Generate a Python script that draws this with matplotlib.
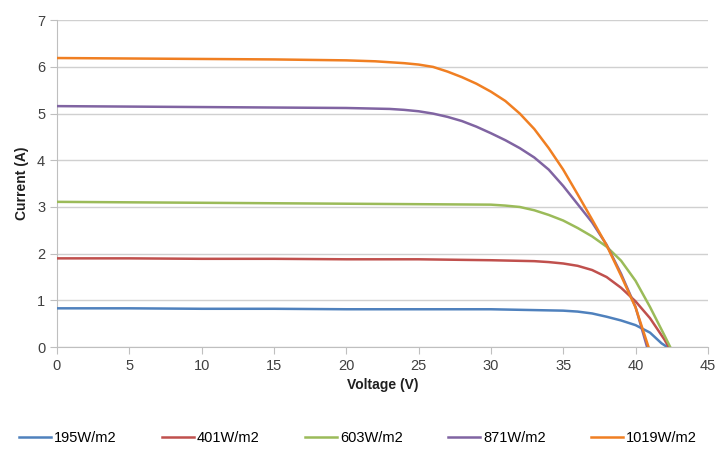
import matplotlib
matplotlib.use("Agg")
import matplotlib.pyplot as plt

plt.rcParams.update({
    "font.family": ["Liberation Sans", "DejaVu Sans"],
    "font.size": 10,
})

# irradiance series: voltage (V) / current (A)
LABELS = ["195W/m2", "401W/m2", "603W/m2", "871W/m2", "1019W/m2"]
COLORS = ["#4F81BD", "#C0504D", "#9BBB59", "#8064A2", "#F07F22"]

v_195 = [0, 5, 10, 15, 20, 25, 30, 35, 36, 37, 38, 39, 40, 41, 41.8, 42.2]
i_195 = [0.83, 0.83, 0.82, 0.82, 0.81, 0.81, 0.81, 0.78, 0.76, 0.72, 0.65, 0.57, 0.47, 0.31, 0.08, 0]

v_401 = [0, 5, 10, 15, 20, 25, 30, 33, 34, 35, 36, 37, 38, 39, 40, 41, 42, 42.3]
i_401 = [1.9, 1.9, 1.89, 1.89, 1.88, 1.88, 1.86, 1.84, 1.82, 1.79, 1.74, 1.65, 1.5, 1.27, 0.98, 0.62, 0.16, 0]

v_603 = [0, 5, 10, 15, 20, 25, 30, 31, 32, 33, 34, 35, 36, 37, 38, 39, 40, 41, 42, 42.4]
i_603 = [3.11, 3.1, 3.09, 3.08, 3.07, 3.06, 3.05, 3.03, 3.0, 2.93, 2.83, 2.71, 2.55, 2.37, 2.15, 1.85, 1.42, 0.86, 0.25, 0]

v_871 = [0, 5, 10, 15, 20, 23, 24, 25, 26, 27, 28, 29, 30, 31, 32, 33, 34, 35, 36, 37, 38, 39, 40, 40.8]
i_871 = [5.16, 5.15, 5.14, 5.13, 5.12, 5.10, 5.08, 5.05, 5.0, 4.93, 4.84, 4.72, 4.58, 4.43, 4.26, 4.06,
         3.8, 3.45, 3.06, 2.67, 2.19, 1.57, 0.86, 0]

v_1019 = [0, 5, 10, 15, 20, 22, 24, 25, 26, 27, 28, 29, 30, 31, 32, 33, 34, 35, 36, 37, 38, 39, 40, 40.9]
i_1019 = [6.19, 6.18, 6.17, 6.16, 6.14, 6.12, 6.08, 6.05, 6.0, 5.9, 5.78, 5.64, 5.47, 5.27, 5.0, 4.67,
          4.26, 3.8, 3.27, 2.73, 2.18, 1.53, 0.85, 0]

series = [(v_195, i_195), (v_401, i_401), (v_603, i_603), (v_871, i_871), (v_1019, i_1019)]

fig = plt.figure(figsize=(7.16, 4.49), dpi=100)
ax = fig.add_axes([0.0796, 0.227, 0.909, 0.728])

for (v, i), lab, c in zip(series, LABELS, COLORS):
    ax.plot(v, i, color=c, linewidth=1.8, label=lab, zorder=3)

ax.set_xlim(0, 45)
ax.set_ylim(0, 7)
ax.set_xticks(range(0, 46, 5))
ax.set_yticks(range(0, 8))
ax.yaxis.grid(True, color="#d0d0d0", linewidth=1.0)
ax.set_axisbelow(True)

for s in ("top", "right"):
    ax.spines[s].set_visible(False)
for s in ("left", "bottom"):
    ax.spines[s].set_color("#bfbfbf")
ax.tick_params(axis="both", colors="#bfbfbf", labelcolor="#404040", labelsize=10.5, length=5)

ax.set_xlabel("Voltage (V)", fontweight="bold", color="#202020", labelpad=4)
ax.set_ylabel("Current (A)", fontweight="bold", color="#202020", labelpad=6)

fig.legend(loc="lower center", bbox_to_anchor=(0.5, -0.02), ncol=5, frameon=False,
           handlelength=2.2, handletextpad=0.2, columnspacing=3.1, fontsize=10.5)

fig.savefig("out.png", dpi=100)
